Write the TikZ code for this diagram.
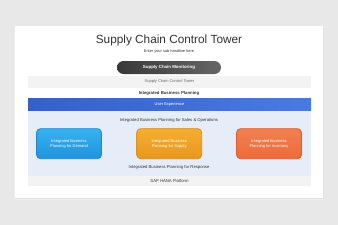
\documentclass[tikz,border=0pt]{standalone}
\usepackage{fontspec}
\setmainfont{Liberation Sans}
\usetikzlibrary{positioning}
\definecolor{bgcol}{HTML}{E9E8E8}
\definecolor{barcol}{HTML}{F3F3F3}
\definecolor{panelcol}{HTML}{E6ECF8}
\definecolor{uxleft}{HTML}{3560C8}
\definecolor{uxright}{HTML}{4A7AE0}
\definecolor{txtcol}{HTML}{333333}
\definecolor{demtop}{HTML}{38B2F0}
\definecolor{dembot}{HTML}{2092DC}
\definecolor{demedge}{HTML}{1C86D4}
\definecolor{suptop}{HTML}{F5AF30}
\definecolor{supbot}{HTML}{E8961E}
\definecolor{supedge}{HTML}{DE8810}
\definecolor{invtop}{HTML}{F28050}
\definecolor{invbot}{HTML}{EC6A3A}
\definecolor{invedge}{HTML}{E05A2A}
\tikzset{
  small/.style={font=\fontsize{4.2}{5}\selectfont, text=txtcol},
  bar/.style={minimum width=283pt, inner sep=0pt, outer sep=0pt},
  ibpbox/.style={minimum width=65pt, minimum height=30pt, rounded corners=4pt,
    line width=0.8pt, align=center, text=white,
    font=\fontsize{4}{5}\selectfont, inner sep=0pt}
}
\begin{document}
\begin{tikzpicture}[x=1pt, y=-1pt]

% Fons
\fill[bgcol] (0,0) rectangle (338,225);
\useasboundingbox (0,0) rectangle (338,225);
\fill[black!7] (14,27.5) rectangle (324,200);
\fill[black!11] (14.5,27) rectangle (323.5,199);
\node[fill=white, minimum width=308pt, minimum height=172pt, inner sep=0pt] (card) at (169,112) {};

% Titols
\node[font=\fontsize{11.8}{14}\selectfont, text=txtcol] (title) at (169,40) {Supply Chain Control Tower};
\node[small, font=\fontsize{3.9}{5}\selectfont] (subtitle) at (169,51.5) {Enter your sub headline here};

% Capes superiors
\node[bar, minimum width=104pt, minimum height=13pt, rounded corners=6.5pt,
  left color=black!78, right color=black!60, text=white,
  font=\fontsize{4.4}{5}\selectfont\bfseries] (monitor) at (169,67.5) {Supply Chain Monitoring};
\node[bar, minimum height=12pt, fill=barcol, small, text=black!60,
  font=\fontsize{4}{5}\selectfont] (tower) at (169.5,81.7) {Supply Chain Control Tower};
\node[small, font=\fontsize{4.3}{5}\selectfont\bfseries] (ibp) at (169,93) {Integrated Business Planning};

% Panell IBP
\node[bar, minimum height=65.7pt, fill=panelcol] (panel) at (169.5,142.85) {};
\node[bar, minimum height=11.3pt, left color=uxleft, right color=uxright, text=white,
  font=\fontsize{4}{5}\selectfont] (ux) at (169.5,104.35) {User Experience};
\node[small] (sop) at (169,120.7) {Integrated Business Planning for Sales \& Operations};
\node[ibpbox, draw=demedge, top color=demtop, bottom color=dembot] (demand) at (69,143.7)
  {Integrated Business\\Planning for Demand};
\node[ibpbox, draw=supedge, top color=suptop, bottom color=supbot] (supply) at (169.2,143.7)
  {Integrated Business\\Planning for Supply};
\node[ibpbox, draw=invedge, top color=invtop, bottom color=invbot] (inventory) at (269,143.7)
  {Integrated Business\\Planning for Inventory};
\node[small] (response) at (169,167) {Integrated Business Planning for Response};
\node[bar, minimum height=10.3pt, fill=barcol, small] (hana) at (169.5,180.85) {SAP HANA Platform};

\end{tikzpicture}
\end{document}
